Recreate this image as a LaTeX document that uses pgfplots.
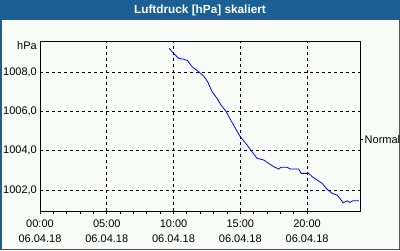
\documentclass[border=0pt]{standalone}
\usepackage{pgfplots}
\pgfplotsset{compat=1.18}
\usepackage{fontspec}
\setmainfont{Liberation Sans}
\definecolor{barblue}{HTML}{1C5F94}
\definecolor{bgc}{HTML}{FAFCF9}
\begin{document}
\begin{tikzpicture}
\useasboundingbox (0pt,0pt) rectangle (400pt,250pt);
\fill[bgc] (0pt,0pt) rectangle (400pt,250pt);
\fill[barblue] (0pt,230pt) rectangle (400pt,250pt);
\draw[barblue, line width=1.5pt] (0.75pt,0.75pt) rectangle (399.25pt,249.25pt);
\node[text=white, font=\fontsize{11.8}{13}\selectfont\bfseries] at (200pt,240pt) {Luftdruck [hPa] skaliert};
\begin{axis}[
  at={(40pt,39pt)}, anchor=south west,
  scale only axis, width=320.5pt, height=170pt,
  xmin=0, xmax=24, ymin=1000.93, ymax=1009.6,
  xtick={0,5,10,15,20},
  xticklabels={{00:00\\06.04.18},{05:00\\06.04.18},{10:00\\06.04.18},{15:00\\06.04.18},{20:00\\06.04.18}},
  minor x tick num=4,
  xtick align=outside,
  major tick length=3pt, minor tick length=3pt,
  ytick={1002,1004,1006,1008},
  ytick style={draw=none},
  xtick pos=bottom,
  grid=major,
  major grid style={black, dash pattern=on 3pt off 3pt, line width=0.8pt},
  axis line style={black, line width=0.8pt},
  tick style={black, line width=0.8pt},
  xticklabel style={align=center, font=\fontsize{11}{15}\selectfont, inner sep=0pt, yshift=-6pt},
  yticklabel style={font=\fontsize{11}{13}\selectfont, inner sep=0pt, xshift=-3pt},
  /pgf/number format/assume math mode=true,
  yticklabel={\pgfmathprintnumber[fixed, fixed zerofill, precision=1, use comma, 1000 sep={}]{\tick}},
  extra y ticks={1004.56},
  extra y tick labels={Normal},
  extra y tick style={grid=none, ytick pos=right, yticklabel pos=right, tick align=outside, every y tick/.style={draw=black, line width=0.8pt}, yticklabel style={xshift=4pt}},
]
\addplot[color=blue, line width=0.8pt] coordinates {
(9.675,1009.23) (10.0,1008.97) (10.37,1008.72) (10.75,1008.67) (11.05,1008.60)
(11.38,1008.29) (11.87,1008.04) (12.25,1007.82) (12.55,1007.53) (12.88,1007.02)
(13.25,1006.68) (13.55,1006.34) (13.95,1005.99) (14.25,1005.61) (14.63,1005.15)
(15.0,1004.72) (15.5,1004.30) (15.88,1003.95) (16.25,1003.62) (16.75,1003.53)
(17.12,1003.36) (17.5,1003.19) (17.87,1003.07) (18.05,1003.16) (18.5,1003.16)
(18.75,1003.07) (19.37,1003.07) (19.55,1002.85) (20.12,1002.85) (20.38,1002.68)
(20.75,1002.51) (21.13,1002.34) (21.5,1002.04) (21.88,1001.83) (22.25,1001.74)
(22.45,1001.58) (22.7,1001.35) (23.0,1001.45) (23.2,1001.37) (23.42,1001.45)
(23.87,1001.45)
};
\end{axis}
\node[anchor=east, inner sep=0pt, font=\fontsize{11}{13}\selectfont] at (37pt,204pt) {hPa};
\end{tikzpicture}
\end{document}
